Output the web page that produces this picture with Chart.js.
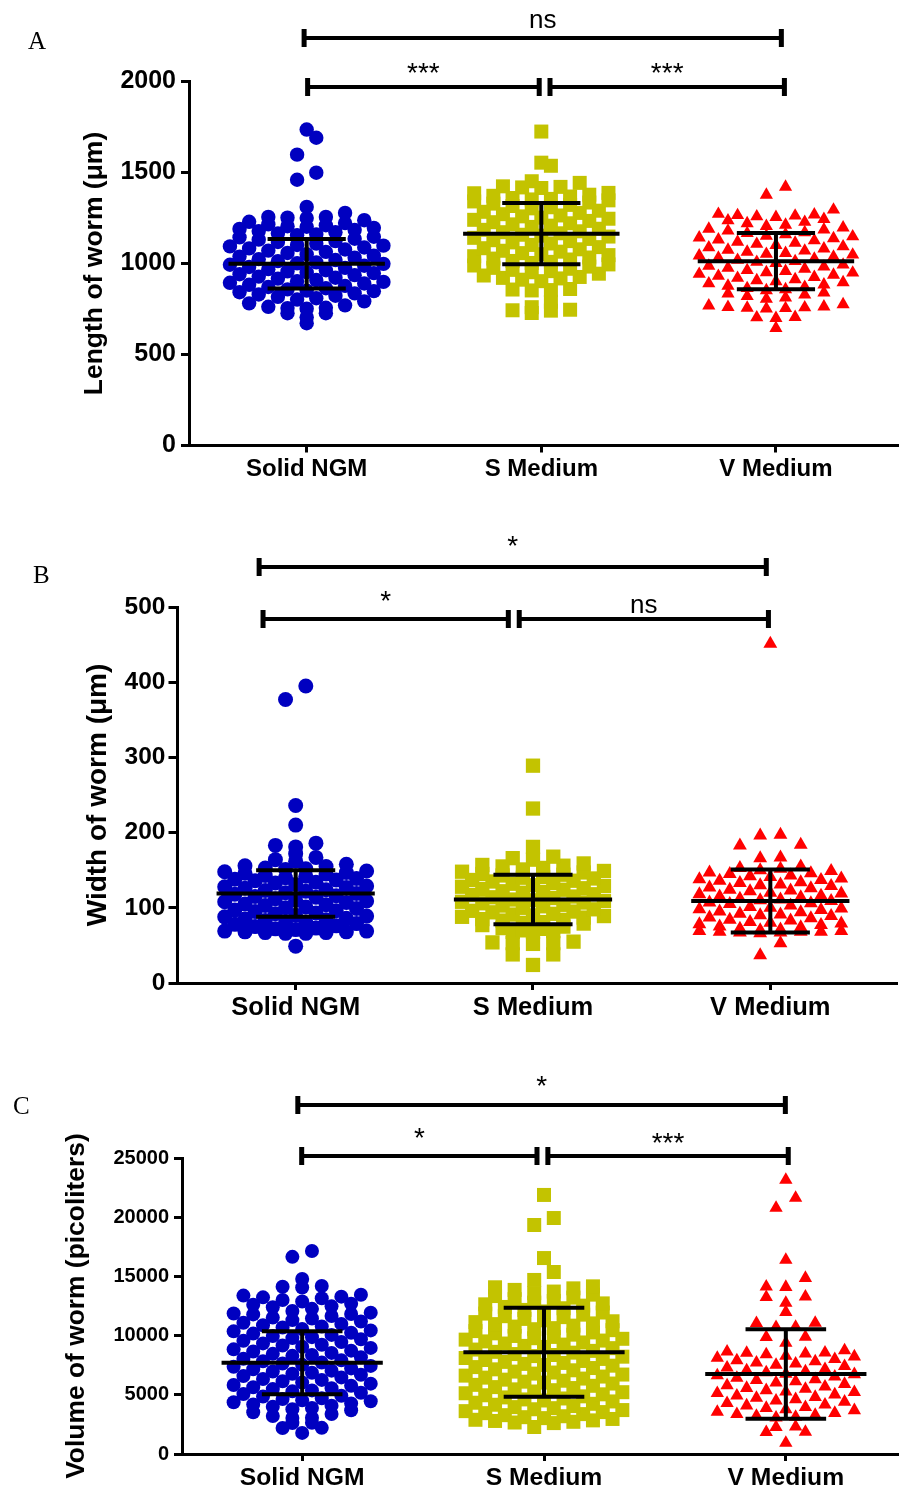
<!DOCTYPE html>
<html>
<head>
<meta charset="utf-8">
<title>Worm size by culture medium</title>
<script src="https://cdn.jsdelivr.net/npm/chart.js@4.4.0/dist/chart.umd.min.js"></script>
<style>
  html, body { margin: 0; padding: 0; background: #fff; }
  #wrap { position: relative; width: 907px; height: 1490px; }
  canvas { position: absolute; left: 0; }
</style>
</head>
<body>
<div id="wrap">
  <canvas id="chartA" width="907" height="500" style="top:0"></canvas>
  <canvas id="chartB" width="907" height="530" style="top:500px"></canvas>
  <canvas id="chartC" width="907" height="460" style="top:1030px"></canvas>
</div>
<script>
// ============================
// DATA
// ============================
const categories = ["Solid NGM", "S Medium", "V Medium"];

// A - length of worm (µm)
const lengthSolid = [
  1736, 1691, 1598, 1499, 1460,
  1311, 1278, 1256, 1256, 1250, 1252,
  1229, 1215, 1205, 1238, 1210, 1222, 1202,
  1196, 1185, 1160, 1172, 1155, 1190, 1165, 1178,
  1102, 1109, 1118, 1123, 1131, 1136, 1144, 1147,
  1051, 1058, 1064, 1071, 1077, 1083, 1088, 1094, 1098,
  1001, 1006, 1013, 1019, 1024, 1032, 1038, 1043,
  952, 957, 963, 969, 976, 981, 988, 993, 998,
  903, 909, 917, 922, 928, 936, 941, 947,
  851, 858, 864, 871, 877, 883, 890, 894, 899,
  802, 809, 817, 823, 830, 836, 842, 848,
  752, 755, 757, 762, 770, 781, 792,
  705, 727, 727, 672
];
const lengthS = [
  1725, 1554, 1537,
  1452, 1443, 1421, 1418, 1424, 1415,
  1388, 1386, 1352, 1360, 1368, 1372, 1378, 1355,
  1303, 1309, 1316, 1322, 1329, 1335, 1341, 1347,
  1252, 1259, 1264, 1271, 1278, 1284, 1290,
  1201, 1208, 1215, 1221, 1227, 1234, 1240, 1246,
  1153, 1158, 1166, 1172, 1177, 1185, 1191,
  1102, 1110, 1116, 1123, 1128, 1135, 1141, 1148,
  1051, 1057, 1065, 1070, 1078, 1084, 1090,
  1003, 1009, 1014, 1022, 1027, 1033, 1040, 1046,
  952, 958, 965, 971, 976, 983, 989, 995,
  903, 911, 918, 921, 926, 934, 944,
  852, 854, 857, 860,
  790, 760, 746, 743, 741, 728
];
const lengthV = [
  1421, 1377,
  1295, 1262, 1258, 1255, 1268, 1272, 1265,
  1205, 1212, 1220, 1228, 1236, 1244,
  1152, 1160, 1166, 1171, 1180, 1186, 1190, 1197,
  1101, 1107, 1113, 1119, 1126, 1131, 1138, 1142, 1148,
  1052, 1057, 1064, 1070, 1075, 1082, 1088, 1093,
  1001, 1008, 1012, 1019, 1025, 1031, 1036, 1043, 1048,
  951, 958, 963, 970, 976, 982, 987, 993,
  902, 907, 913, 920, 925, 931, 937, 942, 949,
  852, 858, 864, 871, 877, 884, 890, 896,
  805, 812, 820, 828, 834, 840,
  752, 754, 756, 758, 760, 763, 768, 775,
  700, 703, 705,
  645
];
const lengthMean = [999, 1164, 1013];
const lengthSD = [136, 168, 155];

// B - width of worm (µm)
const widthSolid = [
  395, 377, 236, 210,
  183, 186, 181,
  172,
  164, 162, 167,
  151, 153, 155, 156, 158, 152,
  140, 142, 143, 145, 146, 147, 148, 149,
  131, 133, 134, 136, 137, 138, 139,
  120, 122, 123, 124, 126, 127, 128, 129,
  110, 112, 114, 115, 116, 118, 119,
  100, 101, 103, 104, 105, 107, 108, 109,
  90, 92, 93, 95, 96, 97, 99,
  80, 81, 83, 84, 85, 86, 88, 89,
  71, 72, 73, 75, 76, 78, 79,
  66, 66, 67, 67, 68, 68, 69, 69,
  49
];
const widthS = [
  289, 232, 181,
  164, 166, 168,
  151, 153, 155, 156, 157, 159,
  140, 141, 143, 144, 145, 147, 148, 149,
  130, 132, 133, 135, 136, 137, 139,
  120, 121, 122, 124, 125, 126, 128, 129,
  110, 111, 113, 114, 115, 117, 118,
  100, 102, 103, 104, 106, 107, 108, 109,
  90, 91, 92, 94, 95, 96, 98,
  80, 81, 83, 84, 85, 87, 88, 89,
  70, 72, 73, 75, 77, 79,
  68, 68, 69,
  52, 53, 53, 54, 55,
  38, 38,
  24
];
const widthV = [
  451,
  196, 197,
  183, 184,
  166, 167,
  150, 152, 153, 155,
  141, 142, 143, 145, 146, 147, 149,
  130, 131, 133, 134, 136, 137, 138, 139,
  120, 122, 123, 124, 126, 127, 129,
  110, 111, 112, 114, 115, 116, 118, 119,
  100, 101, 103, 105, 106, 107, 109,
  90, 91, 92, 94, 95, 97, 98, 99,
  80, 81, 83, 84, 86, 87, 89,
  70, 71, 72, 74, 75, 77, 78, 79,
  66, 67, 67, 68, 68, 68, 69, 69,
  53, 37
];
const widthMean = [119, 111, 109];
const widthSD = [31, 33, 42];

// C - volume of worm (picoliters)
const volumeSolid = [
  17150, 16650,
  14780,
  14060, 14130, 14190,
  12880, 13010, 13160, 13230, 13290, 13380, 13450,
  12080, 12260, 12390, 12470, 12610, 12690,
  11310, 11440, 11520, 11660, 11790, 11830, 11870, 11940,
  10560, 10690, 10770, 10880, 10990, 11080, 11190,
  9790, 9870, 9960, 10060, 10170, 10240, 10360, 10440,
  9060, 9170, 9230, 9340, 9460, 9570, 9690,
  8290, 8370, 8460, 8540, 8660, 8730, 8840, 8960,
  7530, 7640, 7720, 7830, 7910, 8040, 8170,
  6780, 6860, 6970, 7040, 7160, 7230, 7370, 7440,
  6040, 6150, 6260, 6330, 6470, 6580, 6690,
  5290, 5370, 5480, 5560, 5640, 5770, 5830, 5940,
  4530, 4640, 4710, 4850, 4920, 5060, 5170,
  3790, 3880, 3990, 4070, 4180, 4260, 4370, 4460,
  3040, 3060, 3210, 3380, 3520, 3690,
  2610, 2640,
  1780, 2190, 2210
];
const volumeS = [
  21880, 19930, 19340, 16550, 15370, 14700,
  13580, 13720, 13860, 13990, 14080, 14160,
  12790, 12930, 13080, 13210, 13340, 13460,
  12040, 12170, 12310, 12420, 12530, 12640, 12720,
  11290, 11410, 11560, 11640, 11770, 11860, 11950,
  10540, 10630, 10760, 10840, 10970, 11030, 11140, 11210,
  9780, 9890, 9970, 10080, 10190, 10270, 10380, 10460,
  9040, 9130, 9240, 9330, 9420, 9510, 9580, 9660, 9730,
  8270, 8360, 8440, 8560, 8630, 8710, 8820, 8940,
  7520, 7610, 7690, 7780, 7860, 7940, 8030, 8110, 8220,
  6790, 6880, 6960, 7070, 7150, 7260, 7340, 7460,
  6030, 6110, 6190, 6280, 6370, 6450, 6540, 6620, 6710,
  5280, 5390, 5460, 5570, 5650, 5760, 5840, 5950,
  4520, 4610, 4690, 4780, 4870, 4960, 5040, 5130, 5220,
  3780, 3870, 3960, 4050, 4160, 4240, 4330, 4440,
  3030, 3110, 3190, 3280, 3370, 3450, 3540, 3620, 3710,
  2280, 2610, 2660, 2720, 2790, 2840, 2890, 2960
];
const volumeV = [
  23140, 21620, 20780, 16390, 14860,
  14100, 14140,
  12760, 13250, 13280,
  11990,
  10710, 10740, 11050, 11070,
  9870, 9890,
  9380,
  8290, 8410, 8470, 8530, 8560, 8650, 8740,
  7520, 7630, 7710, 7820, 7900, 8010, 8120, 8230,
  6770, 6890, 6980, 7060, 7170, 7290, 7410,
  6020, 6130, 6240, 6310, 6420, 6530, 6640, 6730,
  5270, 5380, 5490, 5570, 5680, 5790, 5910,
  4510, 4620, 4730, 4810, 4930, 5020, 5140, 5230,
  3770, 3880, 3960, 4090, 4170, 4290, 4410,
  3060, 3130, 3210, 3290, 3370, 3460, 3560, 3690,
  2270, 2300,
  1850, 1870,
  930
];
const volumeMean = [7700, 8600, 6755];
const volumeSD = [2660, 3760, 3775];

// ============================
// STYLE
// ============================
const SANS = '"Liberation Sans", Arial, sans-serif';
const SERIF = '"Liberation Serif", "Times New Roman", serif';
const markers = [
  { shape: "circle", color: "#0000c0" },
  { shape: "rect", color: "#c3c300" },
  { shape: "triangle", color: "#ff0000" }
];

// column-scatter layout: bin by value, spread each bin sideways
// (lowest value in the middle, then alternating left / right).
// Sparse nearby bins that would touch are pulled into one row.
function swarm(values, cat, bin, step) {
  const byKey = new Map();
  values.forEach(v => {
    const k = Math.floor(v / bin);
    if (!byKey.has(k)) byKey.set(k, []);
    byKey.get(k).push(v);
  });
  const keys = [...byKey.keys()].sort((a, b) => a - b);
  const rows = [];
  keys.forEach(k => {
    const list = byKey.get(k).sort((a, b) => a - b);
    const prev = rows[rows.length - 1];
    if (prev && k - prev.k <= 2 && prev.list.length <= 2 && list.length <= 2 &&
        list[list.length - 1] - prev.list[0] < 2 * bin) {
      prev.list.push(...list);
      prev.k = k;
    } else {
      rows.push({ k, list });
    }
  });
  const pts = [];
  rows.forEach(({ list }) => {
    const n = list.length;
    list.forEach((v, i) => {
      let slot;
      if (n % 2) slot = i === 0 ? 0 : Math.ceil(i / 2) * (i % 2 ? -1 : 1);
      else slot = (Math.floor(i / 2) + 0.5) * (i % 2 ? 1 : -1);
      pts.push({ x: cat + slot * step, y: v });
    });
  });
  return pts;
}

// mean line, SD bar, significance brackets, panel letter
const overlay = {
  id: "overlay",
  afterDatasetsDraw(chart, args, opts) {
    const { ctx, scales: { x, y } } = chart;
    ctx.save();
    ctx.strokeStyle = "#000";
    ctx.lineWidth = 4;
    ctx.lineCap = "butt";
    opts.mean.forEach((m, i) => {
      const c = i + 1;
      const yM = y.getPixelForValue(m);
      const yHi = y.getPixelForValue(m + opts.sd[i]);
      const yLo = y.getPixelForValue(m - opts.sd[i]);
      ctx.beginPath();
      ctx.moveTo(x.getPixelForValue(c - 1 / 3), yM);
      ctx.lineTo(x.getPixelForValue(c + 1 / 3), yM);
      ctx.moveTo(x.getPixelForValue(c), yHi);
      ctx.lineTo(x.getPixelForValue(c), yLo);
      [yHi, yLo].forEach(yy => {
        ctx.moveTo(x.getPixelForValue(c - 1 / 6), yy);
        ctx.lineTo(x.getPixelForValue(c + 1 / 6), yy);
      });
      ctx.stroke();
    });
    ctx.restore();
  },
  afterDraw(chart, args, opts) {
    const { ctx, scales: { x } } = chart;
    ctx.save();
    ctx.fillStyle = "#000";
    ctx.strokeStyle = "#000";
    opts.brackets.forEach(b => {
      const x1 = x.getPixelForValue(b.from);
      const x2 = x.getPixelForValue(b.to);
      ctx.lineWidth = 4;
      ctx.beginPath();
      ctx.moveTo(x1, b.y);
      ctx.lineTo(x2, b.y);
      ctx.stroke();
      ctx.fillRect(x1 - 2.5, b.y - 9, 5, 18);
      ctx.fillRect(x2 - 2.5, b.y - 9, 5, 18);
      ctx.font = (b.label === "ns" ? "26px " : "28px ") + SANS;
      ctx.textAlign = "center";
      ctx.textBaseline = "alphabetic";
      ctx.fillText(b.label, (x1 + x2) / 2, b.y - b.gap);
    });
    ctx.font = "25px " + SERIF;
    ctx.textAlign = "left";
    ctx.fillText(opts.letter.text, opts.letter.x, opts.letter.y);
    ctx.restore();
  }
};

function makePanel(p) {
  const a = p.area;
  const pxPerCat = (p.cat3 - p.cat1) / 2;
  const xMin = 1 - (p.cat1 - a.left) / pxPerCat;
  const xMax = 3 + (a.right - p.cat3) / pxPerCat;

  const datasets = p.series.map((vals, i) => ({
    data: swarm(vals, i + 1, p.bin, p.step / pxPerCat),
    pointStyle: markers[i].shape,
    pointRadius: p.radius[i],
    pointBackgroundColor: markers[i].color,
    pointBorderWidth: 0,
    clip: false
  }));

  new Chart(document.getElementById(p.id).getContext("2d"), {
    type: "scatter",
    data: { datasets },
    options: {
      responsive: false,
      animation: false,
      devicePixelRatio: 1,
      events: [],
      layout: { padding: { left: 0, top: a.top, right: 907 - a.right, bottom: 0 } },
      plugins: {
        legend: { display: false },
        tooltip: { enabled: false },
        overlay: { mean: p.mean, sd: p.sd, brackets: p.brackets, letter: p.letter }
      },
      scales: {
        x: {
          type: "linear",
          min: xMin,
          max: xMax,
          afterBuildTicks: ax => { ax.ticks = [1, 2, 3].map(v => ({ value: v })); },
          afterFit: ax => { ax.height = p.height - a.bottom; },
          ticks: {
            callback: v => categories[v - 1],
            color: "#000",
            font: { family: SANS, size: p.xFont, weight: "bold" },
            padding: p.xPad,
            maxRotation: 0,
            autoSkip: false
          },
          grid: { drawOnChartArea: false, drawTicks: true, tickLength: 7, lineWidth: 3, color: "#000" },
          border: { display: true, color: "#000", width: 3 }
        },
        y: {
          min: 0,
          max: p.yMax,
          afterFit: ax => { ax.width = a.left; },
          ticks: {
            stepSize: p.yStep,
            callback: v => String(v),
            color: "#000",
            font: { family: SANS, size: p.yFont, weight: "bold" },
            padding: p.yPad
          },
          grid: { drawOnChartArea: false, drawTicks: true, tickLength: p.yTick, lineWidth: 3, color: "#000" },
          border: { display: true, color: "#000", width: 3 },
          title: {
            display: true,
            text: p.title,
            color: "#000",
            font: { family: SANS, size: p.titleFont, weight: "bold" },
            padding: { top: p.titleX - p.titleFont * 0.6, bottom: 0 }
          }
        }
      }
    },
    plugins: [overlay]
  });
}

// panel A: canvas top 0
makePanel({
  id: "chartA", height: 500,
  area: { left: 189, top: 81.5, right: 905, bottom: 445.5 },
  cat1: 308, cat3: 782.5,
  series: [lengthSolid, lengthS, lengthV], mean: lengthMean, sd: lengthSD,
  yMax: 2000, yStep: 500, bin: 50, step: 19.4, radius: [7.2, 9.9, 7.6],
  yFont: 25, yTick: 8, yPad: 5, xFont: 24, xPad: 2,
  title: "Length of worm (μm)", titleFont: 26.5, titleX: 95,
  brackets: [
    { from: 0.989, to: 3.023, y: 38, label: "ns", gap: 10 },
    { from: 1.004, to: 1.991, y: 87, label: "***", gap: 5 },
    { from: 2.037, to: 3.036, y: 87, label: "***", gap: 5 }
  ],
  letter: { text: "A", x: 28, y: 49 }
});

// panel B: canvas top 500
makePanel({
  id: "chartB", height: 530,
  area: { left: 177.5, top: 107, right: 905, bottom: 483 },
  cat1: 297, cat3: 777,
  series: [widthSolid, widthS, widthV], mean: widthMean, sd: widthSD,
  yMax: 500, yStep: 100, bin: 10, step: 20.5, radius: [7.5, 10.1, 8],
  yFont: 24.5, yTick: 9, yPad: 3, xFont: 25.5, xPad: 3,
  title: "Width of worm (μm)", titleFont: 28, titleX: 98,
  brackets: [
    { from: 0.846, to: 2.983, y: 67, label: "*", gap: 12 },
    { from: 0.8625, to: 1.896, y: 119, label: "*", gap: 9 },
    { from: 1.942, to: 2.992, y: 119, label: "ns", gap: 6 }
  ],
  letter: { text: "B", x: 33, y: 83 }
});

// panel C: canvas top 1030
makePanel({
  id: "chartC", height: 460,
  area: { left: 182, top: 128, right: 905, bottom: 424 },
  cat1: 303.5, cat3: 792.5,
  series: [volumeSolid, volumeS, volumeV], mean: volumeMean, sd: volumeSD,
  yMax: 25000, yStep: 5000, bin: 750, step: 19.8, radius: [7, 9.9, 7.7],
  yFont: 20, yTick: 8, yPad: 5, xFont: 24.7, xPad: 2,
  title: "Volume of worm (picoliters)", titleFont: 26.4, titleX: 77,
  brackets: [
    { from: 0.982, to: 2.998, y: 75, label: "*", gap: 10 },
    { from: 0.998, to: 1.971, y: 126, label: "*", gap: 9 },
    { from: 2.016, to: 3.01, y: 126, label: "***", gap: 4 }
  ],
  letter: { text: "C", x: 13, y: 84 }
});
</script>
</body>
</html>
